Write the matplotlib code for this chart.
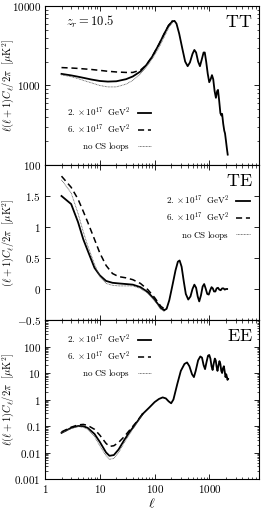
import numpy as np
import matplotlib
matplotlib.use("Agg")
import matplotlib.pyplot as plt
from matplotlib.ticker import FixedLocator, FuncFormatter, LogLocator, NullFormatter

plt.rcParams['mathtext.fontset'] = 'cm'
plt.rcParams['font.family'] = 'serif'
plt.rcParams['font.serif'] = ['DejaVu Serif']

# ---- data ----
labels = [r'$2.\times10^{17}\ \ \mathrm{GeV}^2$',
          r'$6.\times10^{17}\ \ \mathrm{GeV}^2$',
          r'$\mathrm{no\ CS\ loops}$']

# TT, low multipoles (curves differ)
ell_tt_lo = [2, 3, 4, 5, 7, 10, 14, 20, 30, 40, 55, 70, 90, 120, 150, 180, 210]
tt_solid = [1400, 1340, 1290, 1250, 1190, 1140, 1120, 1130, 1200, 1300, 1500, 1800, 2300, 3300, 4500, 5700, 6400]
tt_dash = [1680, 1660, 1640, 1620, 1590, 1550, 1510, 1480, 1460, 1460, 1560, 1800, 2300, 3300, 4500, 5700, 6400]
tt_dot = [1360, 1290, 1220, 1160, 1080, 1000, 960, 960, 1040, 1160, 1400, 1700, 2150, 3000, 4100, 5300, 6200]
# TT, high multipoles (curves coincide)
ell_tt_hi = [210, 230, 250, 280, 320, 360, 400, 440, 490, 530, 570, 620, 670, 720, 780, 820,
             870, 930, 990, 1050, 1110, 1170, 1240, 1310, 1380, 1430, 1500, 1580, 1650, 1700,
             1780, 1860, 1920, 2000, 2080, 2150]
tt_hi = [6400, 6500, 6000, 4500, 2900, 2000, 1750, 1950, 2500, 2800, 2600, 2000, 1750, 2100, 2600, 2600,
         2000, 1400, 1100, 1200, 1350, 1200, 850, 700, 850, 880, 650, 450, 420, 440,
         330, 270, 250, 200, 160, 135]

# TE
ell_te_lo = [2, 3, 4, 5, 6, 8, 10, 13, 17, 22, 30, 40, 55, 75, 100, 130, 150]
te_solid = [1.50, 1.37, 1.08, 0.80, 0.62, 0.34, 0.22, 0.13, 0.10, 0.09, 0.08, 0.07, 0.03, -0.05, -0.17, -0.31, -0.34]
te_dash = [1.82, 1.64, 1.45, 1.25, 1.08, 0.80, 0.58, 0.38, 0.25, 0.20, 0.18, 0.15, 0.09, -0.01, -0.14, -0.28, -0.32]
te_dot = [1.76, 1.55, 1.22, 0.92, 0.70, 0.40, 0.20, 0.09, 0.06, 0.05, 0.05, 0.05, 0.01, -0.07, -0.19, -0.33, -0.36]
ell_te_hi = [150, 165, 185, 210, 240, 265, 285, 310, 340, 370, 410, 450, 490, 530, 570, 610, 650,
             700, 750, 800, 850, 910, 970, 1030, 1090, 1150, 1210, 1280, 1350, 1430, 1510, 1600,
             1700, 1800, 1900, 2000, 2100]
te_hi = [-0.34, -0.32, -0.18, 0.05, 0.30, 0.44, 0.46, 0.36, 0.12, -0.08, -0.17, -0.12, 0.00, 0.07, 0.02, -0.12, -0.20,
         -0.10, 0.04, 0.08, 0.01, -0.08, -0.09, -0.02, 0.03, 0.01, -0.04, -0.04, 0.01, 0.02, -0.01, -0.02,
         0.01, 0.01, -0.01, 0.0, 0.0]

# EE
ell_ee_lo = [2, 3, 4, 5, 6, 8, 10, 13, 15, 18, 22, 28, 35, 45, 60]
ee_solid = [0.055, 0.085, 0.10, 0.098, 0.085, 0.05, 0.025, 0.010, 0.0075, 0.008, 0.013, 0.03, 0.06, 0.12, 0.28]
ee_dash = [0.060, 0.090, 0.11, 0.115, 0.105, 0.075, 0.045, 0.022, 0.017, 0.018, 0.024, 0.04, 0.07, 0.13, 0.28]
ee_dot = [0.055, 0.080, 0.095, 0.090, 0.075, 0.04, 0.018, 0.0075, 0.0055, 0.006, 0.010, 0.024, 0.05, 0.11, 0.26]
ell_ee_hi = [60, 80, 100, 120, 140, 160, 180, 200, 220, 260, 300, 350, 390, 430, 480, 520, 560, 620,
             680, 730, 780, 830, 880, 940, 990, 1040, 1090, 1140, 1190, 1250, 1300, 1350, 1400, 1450,
             1520, 1580, 1640, 1700, 1760, 1830, 1900, 1960, 2020, 2080, 2130, 2180]
ee_hi = [0.28, 0.5, 0.8, 1.05, 1.2, 1.1, 0.85, 0.72, 1.0, 4, 12, 22, 25, 18, 9, 7, 12, 30,
         42, 38, 20, 14, 25, 45, 48, 35, 18, 13, 22, 35, 30, 17, 12, 18,
         28, 22, 12, 10, 15, 18, 11, 7, 9, 7, 5.5, 6]


def fmt_num(v, pos):
    if v == 0:
        return r'$0$'
    s = ('%g' % v)
    if s.startswith('-'):
        return r'$\mathrm{-}%s$' % s[1:]
    return r'$%s$' % s


fig = plt.figure(figsize=(2.67, 5.11), dpi=100)
left, width = 45 / 267, 214 / 267
ax1 = fig.add_axes([left, 1 - 165 / 511, width, 159 / 511])
ax2 = fig.add_axes([left, 1 - 320 / 511, width, 155 / 511])
ax3 = fig.add_axes([left, 1 - 479 / 511, width, 159 / 511])

styles = [dict(color='black', lw=1.3, ls='-'),
          dict(color='black', lw=1.1, ls=(0, (4, 2.5))),
          dict(color='#555555', lw=0.6, ls=(0, (1, 0.8)))]


def draw(ax, ell_lo, lows, ell_hi, hi):
    handles = []
    for y, st, lab in zip(lows, styles, labels):
        h, = ax.plot(ell_lo, y, label=lab, **st)
        handles.append(h)
    ax.plot(ell_hi, hi, color='black', lw=1.3)
    return handles


h1 = draw(ax1, ell_tt_lo, [tt_solid, tt_dash, tt_dot], ell_tt_hi, tt_hi)
h2 = draw(ax2, ell_te_lo, [te_solid, te_dash, te_dot], ell_te_hi, te_hi)
h3 = draw(ax3, ell_ee_lo, [ee_solid, ee_dash, ee_dot], ell_ee_hi, ee_hi)

for ax in (ax1, ax2, ax3):
    ax.set_xscale('log')
    ax.set_xlim(1, 8000)
    ax.xaxis.set_major_locator(FixedLocator([1, 10, 100, 1000]))
    ax.xaxis.set_minor_locator(LogLocator(base=10, subs=np.arange(2, 10), numticks=20))
    ax.xaxis.set_minor_formatter(NullFormatter())
    ax.tick_params(which='both', direction='in', top=True, right=True, labelsize=8, pad=3)
    ax.tick_params(which='major', length=3.5, width=0.6)
    ax.tick_params(which='minor', length=1.8, width=0.5)
    for sp in ax.spines.values():
        sp.set_linewidth(0.8)

ax1.set_yscale('log')
ax1.set_ylim(100, 10000)
ax1.yaxis.set_major_locator(FixedLocator([100, 1000, 10000]))
ax1.yaxis.set_major_formatter(FuncFormatter(fmt_num))
ax1.yaxis.set_minor_locator(LogLocator(base=10, subs=np.arange(2, 10), numticks=20))
ax1.yaxis.set_minor_formatter(NullFormatter())

ax2.set_ylim(-0.5, 2.0)
ax2.yaxis.set_major_locator(FixedLocator([-0.5, 0, 0.5, 1, 1.5, 2.0]))
ax2.yaxis.set_major_formatter(FuncFormatter(lambda v, p: '' if v > 1.9 else fmt_num(v, p)))

ax3.set_yscale('log')
ax3.set_ylim(0.001, 1000)
ax3.yaxis.set_major_locator(FixedLocator([0.001, 0.01, 0.1, 1, 10, 100, 1000]))
ax3.yaxis.set_major_formatter(FuncFormatter(lambda v, p: '' if v > 500 else fmt_num(v, p)))
ax3.yaxis.set_minor_formatter(NullFormatter())

ax1.tick_params(labelbottom=False)
ax2.tick_params(labelbottom=False)
ax3.xaxis.set_major_formatter(FuncFormatter(fmt_num))
ax3.set_xlabel(r'$\ell$', fontsize=10, labelpad=1)

ylab = r'$\ell(\ell+1)C_\ell/2\pi\ \ [\mu\mathrm{K}^2]$'
ax1.set_ylabel(ylab, fontsize=7.5)
ax2.set_ylabel(r'$(\ell+1)C_\ell/2\pi\ \ [\mu\mathrm{K}^2]$', fontsize=7.5)
ax3.set_ylabel(ylab, fontsize=7.5)
for ax in (ax1, ax2, ax3):
    ax.yaxis.set_label_coords(-0.135, 0.5)

ax1.text(0.1, 0.9, r'$z_r = 10.5$', transform=ax1.transAxes, fontsize=9, va='center')
for ax, t in ((ax1, 'TT'), (ax2, 'TE'), (ax3, 'EE')):
    ax.text(0.97, 0.9, r'$\mathrm{%s}$' % t, transform=ax.transAxes, fontsize=13,
            ha='right', va='center')

leg_kw = dict(frameon=False, markerfirst=False, fontsize=6.5, handlelength=1.5,
              handletextpad=0.8, labelspacing=0.45, borderaxespad=0)
ax1.legend(handles=h1, loc='center', bbox_to_anchor=(0.30, 0.225), **leg_kw)
ax2.legend(handles=h2, loc='center', bbox_to_anchor=(0.76, 0.66), **leg_kw)
ax3.legend(handles=h3, loc='center', bbox_to_anchor=(0.30, 0.77), **leg_kw)

fig.savefig('out.png', dpi=100)
